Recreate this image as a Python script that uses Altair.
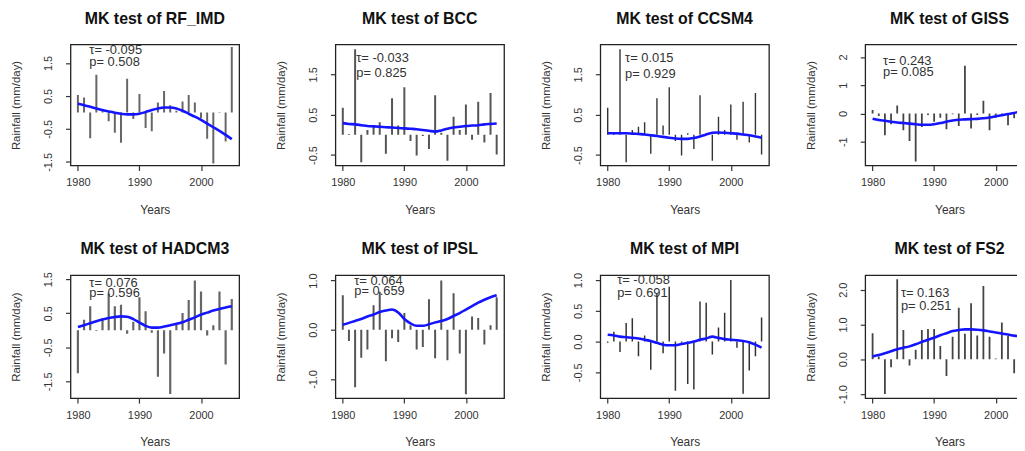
import altair as alt
import pandas as pd

years = list(range(1980, 2006))

models = ["RF_IMD", "BCC", "CCSM4", "GISS", "HADCM3", "IPSL", "MPI", "FS2"]
tau_values = ["-0.095", "-0.033", "0.015", "0.243", "0.076", "0.064", "-0.058", "0.163"]
p_values = ["0.508", "0.825", "0.929", "0.085", "0.596", "0.659", "0.691", "0.251"]

rf_imd_anom = [0.53, 0.45, -0.78, 1.14, 0.04, -0.27, -0.62, -0.92, 1.02, -0.20, 0.56, -0.47, -0.57,
               0.30, 0.65, 0.22, 0.05, 0.33, 0.53, 0.30, -0.18, -0.80, -1.55, -0.02, -0.88, 1.98]
rf_imd_trend = [0.26, 0.22, 0.17, 0.12, 0.07, 0.03, -0.01, -0.04, -0.06, -0.06, -0.04, 0.01, 0.07,
                0.12, 0.15, 0.15, 0.12, 0.05, -0.04, -0.13, -0.23, -0.34, -0.45, -0.56, -0.68, -0.81]

bcc_anom = [0.67, 0.02, 2.12, -0.68, 0.12, 0.20, 0.31, -0.47, 0.91, 0.23, 1.18, -0.15, -0.51,
            -0.03, -0.35, 0.98, 0.05, -0.64, 0.45, 0.12, 0.75, -0.12, 0.82, -0.19, 1.04, -0.49]
bcc_trend = [0.29, 0.27, 0.26, 0.24, 0.22, 0.21, 0.20, 0.19, 0.18, 0.17, 0.16, 0.15, 0.14,
             0.12, 0.10, 0.08, 0.11, 0.15, 0.18, 0.20, 0.22, 0.23, 0.24, 0.26, 0.27, 0.28]

ccsm4_anom = [0.67, 0.02, 2.12, -0.68, 0.12, 0.20, 0.31, -0.47, 0.91, 0.23, 1.18, -0.15, -0.51,
              0.04, -0.35, 0.98, 0.03, -0.64, 0.45, 0.12, 0.75, -0.12, 0.82, -0.19, 1.04, -0.49]
ccsm4_trend = [0.04, 0.04, 0.04, 0.04, 0.03, 0.02, 0.01, -0.01, -0.03, -0.05, -0.07, -0.09, -0.10,
               -0.10, -0.08, -0.04, 0.01, 0.05, 0.06, 0.05, 0.04, 0.03, 0.01, -0.01, -0.04, -0.07]

giss_anom = [0.12, -0.09, -0.77, -0.38, 0.28, -0.59, -0.97, -1.70, -0.48, -0.05, -0.29, -0.15, -0.56,
             -0.03, -0.44, 1.69, -0.53, -0.05, 0.45, -0.59, -0.15, -0.02, -0.42, -0.17, 2.31, -0.30]
giss_trend = [-0.19, -0.23, -0.26, -0.29, -0.32, -0.34, -0.36, -0.38, -0.40, -0.40, -0.38, -0.34, -0.29,
              -0.25, -0.22, -0.21, -0.20, -0.19, -0.17, -0.14, -0.10, -0.06, -0.02, 0.02, 0.07, 0.12]

hadcm3_anom = [-1.26, 0.31, 0.71, -0.02, 0.36, 1.08, 0.71, 0.75, -0.10, 0.25, 0.97, 0.56, -0.07,
               -1.36, -0.68, -1.87, 0.19, 0.51, 0.89, 1.46, 1.14, -0.15, 0.15, 1.14, -1.00, 0.92]
hadcm3_trend = [0.10, 0.15, 0.21, 0.27, 0.32, 0.36, 0.39, 0.41, 0.40, 0.33, 0.23, 0.13, 0.08,
                0.08, 0.11, 0.15, 0.19, 0.24, 0.31, 0.38, 0.46, 0.52, 0.58, 0.63, 0.67, 0.71]

ipsl_anom = [0.70, -0.23, -1.17, -0.57, -0.40, 0.50, 0.77, -0.64, -0.17, -0.25, 0.34, 0.09, -0.40,
             -0.35, 0.62, -0.58, 1.00, -0.62, 0.74, -0.48, -1.31, 0.27, 0.24, -0.30, 0.09, 0.66]
ipsl_trend = [0.10, 0.14, 0.18, 0.22, 0.27, 0.31, 0.36, 0.39, 0.41, 0.35, 0.22, 0.13, 0.08,
              0.08, 0.11, 0.15, 0.18, 0.22, 0.28, 0.34, 0.41, 0.48, 0.55, 0.61, 0.66, 0.70]

mpi_anom = [-0.02, 0.16, -0.17, 0.30, 0.38, -0.24, 0.10, -0.46, 0.78, -0.19, 0.89, -0.80, -0.02,
            -0.69, -0.78, 0.65, 0.63, -0.21, 0.23, 0.47, 1.00, -0.10, -0.85, -0.47, -0.24, 0.39]
mpi_trend = [0.11, 0.10, 0.08, 0.07, 0.06, 0.05, 0.03, 0.01, -0.02, -0.05, -0.06, -0.06, -0.04,
             -0.02, 0.00, 0.03, 0.05, 0.08, 0.06, 0.04, 0.03, 0.02, 0.01, -0.01, -0.05, -0.10]

fs2_anom = [0.75, 0.08, -1.00, -0.23, 2.30, 0.84, -0.18, 0.27, 0.84, 0.87, 0.87, 0.38, -0.48,
            0.65, 1.48, 0.73, 1.61, 0.68, 2.11, 0.65, 0.02, 1.06, 0.67, -0.40, 0.84, 0.50]
fs2_trend = [0.08, 0.12, 0.17, 0.23, 0.29, 0.33, 0.37, 0.43, 0.50, 0.56, 0.62, 0.69, 0.75,
             0.81, 0.84, 0.86, 0.86, 0.85, 0.83, 0.80, 0.77, 0.74, 0.71, 0.68, 0.66, 0.63]

anoms = [rf_imd_anom, bcc_anom, ccsm4_anom, giss_anom, hadcm3_anom, ipsl_anom, mpi_anom, fs2_anom]
trends = [rf_imd_trend, bcc_trend, ccsm4_trend, giss_trend, hadcm3_trend, ipsl_trend, mpi_trend, fs2_trend]

# y axis: domain, tick values, labelled tick values, label format
y_domains = [[-1.61, 2.06], [-0.76, 2.24], [-0.76, 2.24], [-1.84, 2.44],
             [-1.99, 1.62], [-1.39, 1.11], [-0.92, 1.08], [-1.12, 2.42]]
y_ticks = [[-1.5, -1, -0.5, 0, 0.5, 1, 1.5, 2], [-0.5, 0, 0.5, 1, 1.5, 2], [-0.5, 0, 0.5, 1, 1.5, 2],
           [-1, 0, 1, 2], [-1.5, -1, -0.5, 0, 0.5, 1, 1.5], [-1, -0.5, 0, 0.5, 1],
           [-0.5, 0, 0.5, 1], [-1, -0.5, 0, 0.5, 1, 1.5, 2]]
y_labelled = [[-1.5, -0.5, 0.5, 1.5], [-0.5, 0.5, 1.5], [-0.5, 0.5, 1.5], [-1, 0, 1, 2],
              [-1.5, -0.5, 0.5, 1.5], [-1, 0, 0.5, 1], [-0.5, 0, 0.5, 1], [-1, 0, 1, 2]]
y_formats = [".1f", ".1f", ".1f", "d", ".1f", ".1f", ".1f", ".1f"]
x_ticks = [1980, 1985, 1990, 1995, 2000, 2005]

# layout / style (pixels)
text_pos = [(19, 6, 18), (21, 14, 29), (25, 14, 30), (18, 17, 28),
            (19, 8, 18), (19, 6, 16), (17, 5, 18), (36, 18, 31)]
bar_style = [("#666666", 2.0), ("#555555", 2.0), ("#333333", 1.4), ("#444444", 1.8),
             ("#666666", 2.2), ("#555555", 2.0), ("#333333", 1.5), ("#444444", 1.8)]
row_heights = [122, 124]
PANEL_W = 170
FONT = "Liberation Sans"


def panel(i, height):
    df = pd.DataFrame({"year": years, "anom": anoms[i], "trend": trends[i]})
    lab = ",".join(str(v) for v in y_labelled[i])
    y_axis = alt.Axis(
        values=y_ticks[i],
        labelExpr=f"indexof([{lab}], datum.value) >= 0 ? replace(format(datum.value, '{y_formats[i]}'), '\u2212', '-') : ''",
        labelAngle=-90, labelAlign="center", labelBaseline="bottom",
        labelPadding=12, tickSize=5, minExtent=29, maxExtent=29,
        title="Rainfall (mm/day)", titleFontSize=11.5, titlePadding=20,
        titleFontWeight="normal", titleFont="Liberation Sans Narrow, Liberation Sans",
    )
    x_axis = alt.Axis(
        values=x_ticks,
        labelExpr="datum.value % 10 == 0 ? toString(datum.value) : ''",
        tickSize=5, labelPadding=6, title="Years", titlePadding=17,
        titleFontSize=12, titleFontWeight="normal",
    )
    xs = alt.Scale(domain=[1978.8, 2006.2], nice=False, zero=False)
    ys = alt.Scale(domain=y_domains[i], nice=False, zero=False)
    base = alt.Chart(df)
    color, sw = bar_style[i]
    bars = base.mark_rule(color=color, strokeWidth=sw, clip=True).encode(
        x=alt.X("year:Q", scale=xs, axis=x_axis, title="Years"),
        y=alt.Y("anom:Q", scale=ys, axis=y_axis, title="Rainfall (mm/day)"),
        y2=alt.datum(0),
    )
    line = base.mark_line(color="#1414ff", strokeWidth=2.6, interpolate="monotone").encode(
        x=alt.X("year:Q", scale=xs, title="Years"),
        y=alt.Y("trend:Q", scale=ys, title="Rainfall (mm/day)"),
    )
    dx, dy1, dy2 = text_pos[i]
    tdf = pd.DataFrame({"t1": ["\u03c4= " + tau_values[i]], "t2": ["p= " + p_values[i]],
                        "title": ["MK test of " + models[i]]})
    txt = dict(align="left", baseline="middle", fontSize=13, font=FONT, color="#333333")
    t1 = alt.Chart(tdf).mark_text(**txt).encode(text="t1:N", x=alt.value(dx), y=alt.value(dy1))
    t2 = alt.Chart(tdf).mark_text(**txt).encode(text="t2:N", x=alt.value(dx), y=alt.value(dy2))
    ttl = alt.Chart(tdf).mark_text(align="center", baseline="middle", fontSize=16,
                                   fontWeight="bold", font=FONT, color="#111111").encode(
        text="title:N", x=alt.value(PANEL_W / 2), y=alt.value(-26))
    return alt.layer(bars, line, t1, t2, ttl).properties(
        width=PANEL_W, height=height,
        view=alt.ViewBackground(stroke="#222222", strokeWidth=1.3, fill="white"),
    )


row1 = alt.hconcat(*[panel(i, row_heights[0]) for i in range(4)], spacing=35)
row2 = alt.hconcat(*[panel(i, row_heights[1]) for i in range(4, 8)], spacing=35)

chart = alt.vconcat(row1, row2, spacing=24.5).configure_view(
    stroke="#222222", strokeWidth=1.3
).configure_axis(
    grid=False, domain=False, labelFont=FONT, titleFont=FONT,
    labelColor="#333333", titleColor="#333333", tickColor="#333333", tickWidth=1.2,
    labelFontSize=11,
).properties(
    background="white",
    padding={"left": 2, "top": 0, "right": -18, "bottom": 0},
)

chart.save("out.html", embed_options={"renderer": "svg", "actions": False})
